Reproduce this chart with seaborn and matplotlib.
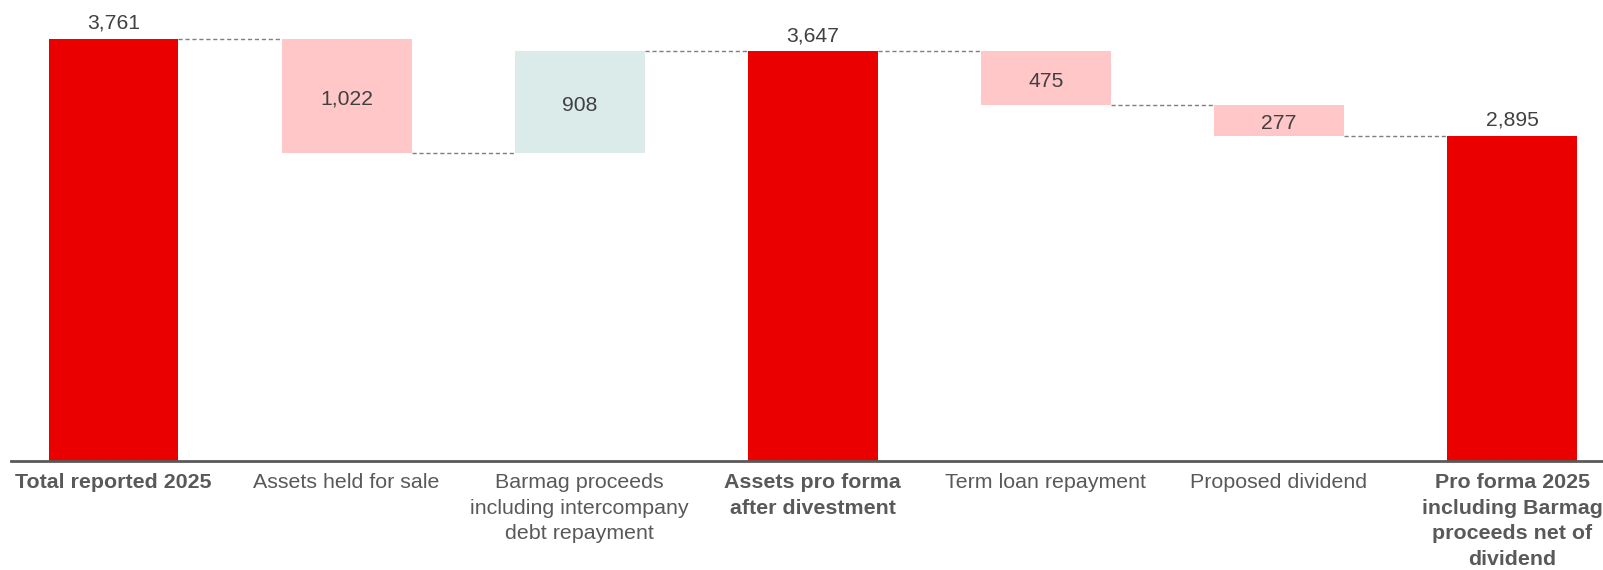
import matplotlib
matplotlib.use("Agg")
import matplotlib.pyplot as plt
import seaborn as sns
import pandas as pd

# Waterfall data: balance bridge for 2025
categories = [
    "Total reported 2025",
    "Assets held for sale",
    "Barmag proceeds\nincluding intercompany\ndebt repayment",
    "Assets pro forma\nafter divestment",
    "Term loan repayment",
    "Proposed dividend",
    "Pro forma 2025\nincluding Barmag\nproceeds net of\ndividend",
]
values = [3761, -1022, 908, 3647, -475, -277, 2895]
kinds = ["total", "decrease", "increase", "total", "decrease", "decrease", "total"]

palette = {"total": "#EB0000", "decrease": "#FFC7C7", "increase": "#DAEBEA"}

# Running levels: bar bottoms and heights
bases, heights, ends = [], [], []
level = 0
for v, k in zip(values, kinds):
    if k == "total":
        bases.append(0)
        heights.append(v)
        level = v
    elif v < 0:
        bases.append(level + v)
        heights.append(-v)
        level = level + v
    else:
        bases.append(level)
        heights.append(v)
        level = level + v
    ends.append(level)

df = pd.DataFrame({"category": categories, "height": heights, "kind": kinds})

sns.set_theme(style="white")
plt.rcParams["font.family"] = ["Liberation Sans", "DejaVu Sans"]

fig = plt.figure(figsize=(16.03, 5.70), dpi=100)
ax = fig.add_axes([11 / 1603, (570 - 461) / 570, 1 - 11 / 1603, 461 / 570])

bar_w = 0.557
sns.barplot(data=df, x="category", y="height", hue="kind", palette=palette,
            order=categories, dodge=False, width=bar_w, saturation=1,
            linewidth=0, legend=False, ax=ax)

# Lift each floating bar to its running base
for p in ax.patches:
    idx = int(round(p.get_x() + p.get_width() / 2))
    if 0 <= idx < len(bases):
        p.set_y(bases[idx])

# Dashed connectors between consecutive bars
for i in range(len(values) - 1):
    ax.plot([i + bar_w / 2, i + 1 - bar_w / 2], [ends[i], ends[i]],
            linestyle=(0, (3, 2)), color="#7F7F7F", linewidth=1.0, zorder=1)

# Value labels: above totals, centred inside the change bars
for i, (v, k) in enumerate(zip(values, kinds)):
    txt = f"{abs(v):,}"
    if k == "total":
        ax.annotate(txt, (i, bases[i] + heights[i]), xytext=(0, 4.5),
                    textcoords="offset points", ha="center", va="bottom",
                    fontsize=15.2, color="#404040")
    else:
        ax.annotate(txt, (i, bases[i] + heights[i] / 2), xytext=(0, -2.2),
                    textcoords="offset points", ha="center", va="center",
                    fontsize=15.2, color="#404040")

ax.set_xlim(-0.44, 6.39)
ax.set_ylim(0, 4105)
ax.set_xlabel("")
ax.set_ylabel("")
ax.set_yticks([])
ax.set_xticks(range(len(categories)))
ax.set_xticklabels(categories, fontsize=15.4, color="#595959", linespacing=1.45)
for lbl, k in zip(ax.get_xticklabels(), kinds):
    lbl.set_verticalalignment("top")
    if k == "total":
        lbl.set_fontweight("bold")
ax.tick_params(axis="x", length=0, pad=8.5)

for side in ["top", "right", "left"]:
    ax.spines[side].set_visible(False)
ax.spines["bottom"].set_color("#595959")
ax.spines["bottom"].set_linewidth(2)

fig.savefig("out.png", dpi=100)
